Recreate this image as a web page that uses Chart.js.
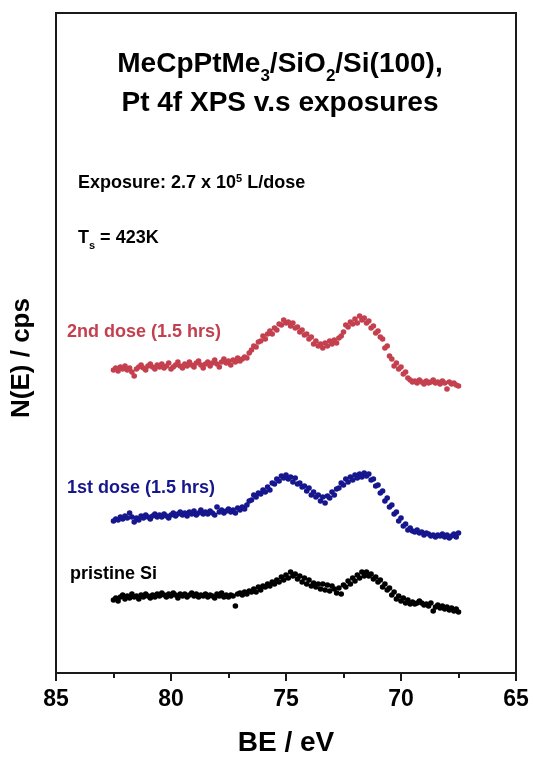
<!DOCTYPE html>
<html>
<head>
<meta charset="utf-8">
<script src="https://cdn.jsdelivr.net/npm/chart.js@4.4.1/dist/chart.umd.min.js"></script>
<style>
  html, body { margin: 0; padding: 0; background: #ffffff; }
  #wrap { width: 534px; height: 757px; }
</style>
</head>
<body>
<div id="wrap"><canvas id="xps" width="534" height="757"></canvas></div>
<script>
// Binding energy grid (eV), 0.1 eV steps
const beGrid = [
  82.5,82.4,82.3,82.2,82.1,82.0,81.9,81.8,81.7,81.6,
  81.5,81.4,81.3,81.2,81.1,81.0,80.9,80.8,80.7,80.6,
  80.5,80.4,80.3,80.2,80.1,80.0,79.9,79.8,79.7,79.6,
  79.5,79.4,79.3,79.2,79.1,79.0,78.9,78.8,78.7,78.6,
  78.5,78.4,78.3,78.2,78.1,78.0,77.9,77.8,77.7,77.6,
  77.5,77.4,77.3,77.2,77.1,77.0,76.9,76.8,76.7,76.6,
  76.5,76.4,76.3,76.2,76.1,76.0,75.9,75.8,75.7,75.6,
  75.5,75.4,75.3,75.2,75.1,75.0,74.9,74.8,74.7,74.6,
  74.5,74.4,74.3,74.2,74.1,74.0,73.9,73.8,73.7,73.6,
  73.5,73.4,73.3,73.2,73.1,73.0,72.9,72.8,72.7,72.6,
  72.5,72.4,72.3,72.2,72.1,72.0,71.9,71.8,71.7,71.6,
  71.5,71.4,71.3,71.2,71.1,71.0,70.9,70.8,70.7,70.6,
  70.5,70.4,70.3,70.2,70.1,70.0,69.9,69.8,69.7,69.6,
  69.5,69.4,69.3,69.2,69.1,69.0,68.9,68.8,68.7,68.6,
  68.5,68.4,68.3,68.2,68.1,68.0,67.9,67.8,67.7,67.6,
  67.5
];

// Pt 4f N(E), arbitrary cps, spectra offset vertically
const dose2 = [
  303,305,302,306,304,307,303,305,301,297,
  304,306,308,305,303,307,309,306,304,308,
  306,309,305,307,310,304,306,308,311,307,
  305,309,307,311,308,306,310,312,308,305,
  309,311,307,310,313,309,306,311,314,310,
  312,308,313,311,315,312,314,316,315,320,
  323,327,326,331,332,337,334,339,342,339,
  345,343,349,348,353,350,351,347,350,345,
  346,341,343,338,339,334,336,329,332,327,
  329,325,330,327,332,329,333,330,335,337,
  341,348,346,351,349,354,350,357,353,355,
  350,352,345,347,340,342,336,334,325,327,
  317,314,307,310,304,306,299,301,295,293,
  291,292,290,293,291,289,292,290,291,293,
  290,291,289,292,290,284,291,289,290,288,
  287
];

const dose1 = [
  152,154,153,156,154,157,155,160,156,151,
  155,153,157,155,158,156,154,157,159,156,
  158,156,159,157,155,158,160,157,159,161,
  158,160,157,161,159,162,158,160,163,159,
  161,159,162,160,158,166,161,163,160,162,
  164,161,163,160,165,163,166,164,168,172,
  173,178,176,180,179,183,181,186,183,190,
  189,194,192,197,195,198,194,196,191,195,
  189,190,186,187,182,185,178,181,176,178,
  172,176,170,177,175,181,178,184,185,190,
  188,194,191,196,193,198,195,199,196,200,
  197,199,193,194,187,188,180,182,172,175,
  166,168,159,161,152,155,147,149,143,145,
  142,141,143,140,141,138,140,139,137,138,
  136,138,137,139,136,138,135,137,139,136,
  140
];

const pristine = [
  73,75,72,76,78,74,77,75,79,76,
  77,74,78,76,79,77,75,78,76,79,
  77,80,78,76,79,77,80,78,75,79,
  77,79,76,78,80,77,79,76,78,77,
  79,76,78,77,75,79,77,80,76,78,
  76,78,77,67,79,80,78,81,79,82,
  81,84,81,86,83,87,86,89,87,91,
  89,93,91,96,93,98,95,101,97,99,
  94,97,91,95,89,93,87,90,86,89,
  84,89,83,88,82,87,84,80,85,79,
  88,86,92,89,95,92,98,95,101,97,
  101,97,99,94,96,91,93,86,89,83,
  85,78,81,74,77,72,75,70,73,69,
  71,69,70,72,70,68,69,67,70,62,
  66,68,65,67,64,66,63,65,62,64,
  61
];

const beMajorTicks = [85, 80, 75, 70, 65];
const beMinorTicks = [82.5, 77.5, 72.5, 67.5];

const seriesNames = ['2nd dose (1.5 hrs)', '1st dose (1.5 hrs)', 'pristine Si'];
const seriesColors = ['#c4404f', '#16168e', '#000000'];

const FONT = '"Liberation Sans", Arial, "DejaVu Sans", sans-serif';

const toPoints = vals => beGrid.map((be, i) => ({ x: be, y: vals[i] }));

// Draws a line of text made of runs; runs may be subscript or superscript
function drawRuns(ctx, runs, x, y, size, color, align) {
  const pieces = runs.map(r => {
    const s = r.k ? Math.round(size * 0.6) : size;
    ctx.font = 'bold ' + s + 'px ' + FONT;
    return { t: r.t, s, k: r.k, w: ctx.measureText(r.t).width };
  });
  const total = pieces.reduce((a, p) => a + p.w, 0);
  let cx = align === 'center' ? x - total / 2 : x;
  ctx.fillStyle = color;
  ctx.textBaseline = 'alphabetic';
  ctx.textAlign = 'left';
  for (const p of pieces) {
    ctx.font = 'bold ' + p.s + 'px ' + FONT;
    let dy = 0;
    if (p.k === 'sub') dy = size * 0.32;
    if (p.k === 'sup') dy = -size * 0.36;
    ctx.fillText(p.t, cx, y + dy);
    cx += p.w;
  }
}

const framePlugin = {
  id: 'frameAndNotes',
  afterDraw(chart) {
    const { ctx, chartArea: a, scales: { x } } = chart;
    ctx.save();

    // plot frame
    ctx.strokeStyle = '#1a1a1a';
    ctx.lineWidth = 2;
    ctx.strokeRect(a.left, a.top, a.right - a.left, a.bottom - a.top);

    // outward tick marks on the energy axis
    ctx.beginPath();
    beMajorTicks.forEach(v => {
      const px = Math.round(x.getPixelForValue(v));
      ctx.moveTo(px, a.bottom); ctx.lineTo(px, a.bottom + 8);
    });
    beMinorTicks.forEach(v => {
      const px = Math.round(x.getPixelForValue(v));
      ctx.moveTo(px, a.bottom); ctx.lineTo(px, a.bottom + 5);
    });
    ctx.stroke();

    // y-axis title
    ctx.save();
    ctx.translate(22, 358);
    ctx.rotate(-Math.PI / 2);
    ctx.font = 'bold 26px ' + FONT;
    ctx.fillStyle = '#000';
    ctx.textAlign = 'center';
    ctx.textBaseline = 'middle';
    ctx.fillText('N(E) / cps', 0, 0);
    ctx.restore();

    // chart title
    drawRuns(ctx, [{ t: 'MeCpPtMe' }, { t: '3', k: 'sub' }, { t: '/SiO' }, { t: '2', k: 'sub' }, { t: '/Si(100),' }],
      280, 72, 28, '#000', 'center');
    drawRuns(ctx, [{ t: 'Pt 4f XPS v.s exposures' }], 280, 111, 28, '#000', 'center');

    // experimental conditions
    drawRuns(ctx, [{ t: 'Exposure: 2.7 x 10' }, { t: '5', k: 'sup' }, { t: ' L/dose' }], 78, 188, 18, '#000', 'left');
    drawRuns(ctx, [{ t: 'T' }, { t: 's', k: 'sub' }, { t: ' = 423K' }], 78, 243, 18, '#000', 'left');

    // spectrum labels
    drawRuns(ctx, [{ t: seriesNames[0] }], 67, 337, 18, seriesColors[0], 'left');
    drawRuns(ctx, [{ t: seriesNames[1] }], 67, 493, 18, seriesColors[1], 'left');
    drawRuns(ctx, [{ t: seriesNames[2] }], 70, 579, 18, seriesColors[2], 'left');

    ctx.restore();
  }
};

const mkSet = (label, vals, color) => ({
  label,
  data: toPoints(vals),
  showLine: false,
  pointRadius: 2.8,
  pointHoverRadius: 2.8,
  pointBorderWidth: 0,
  pointBackgroundColor: color,
  pointBorderColor: color
});

new Chart(document.getElementById('xps'), {
  type: 'scatter',
  data: {
    datasets: [
      mkSet(seriesNames[0], dose2, seriesColors[0]),
      mkSet(seriesNames[1], dose1, seriesColors[1]),
      mkSet(seriesNames[2], pristine, seriesColors[2])
    ]
  },
  options: {
    responsive: false,
    animation: false,
    devicePixelRatio: 1,
    layout: { padding: { left: 56, right: 18, top: 13, bottom: 0 } },
    plugins: { legend: { display: false }, tooltip: { enabled: false }, title: { display: false } },
    scales: {
      x: {
        type: 'linear',
        reverse: true,
        min: 65,
        max: 85,
        afterBuildTicks: s => { s.ticks = beMajorTicks.map(v => ({ value: v })); },
        afterFit: s => { s.height = 84; s.paddingLeft = 0; s.paddingRight = 0; },
        grid: { display: false, drawTicks: false },
        border: { display: false },
        ticks: {
          padding: 13,
          color: '#000',
          maxRotation: 0,
          autoSkip: false,
          font: { family: FONT, size: 23, weight: 'bold' },
          callback: v => String(v)
        },
        title: {
          display: true,
          text: 'BE / eV',
          color: '#000',
          padding: 0,
          font: { family: FONT, size: 28, weight: 'bold', lineHeight: 1.0 }
        }
      },
      y: {
        type: 'linear',
        display: false,
        min: 0,
        max: 660
      }
    }
  },
  plugins: [framePlugin]
});
</script>
</body>
</html>
